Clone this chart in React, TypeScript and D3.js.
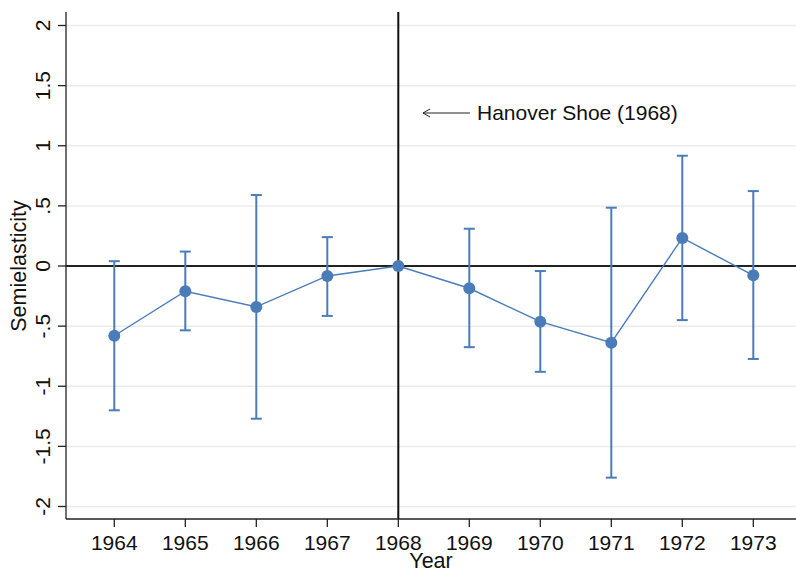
import React from "react";
import * as d3 from "d3";

const years = [1964, 1965, 1966, 1967, 1968, 1969, 1970, 1971, 1972, 1973];
const estimates = [-0.58, -0.21, -0.34, -0.083, 0, -0.185, -0.463, -0.638, 0.233, -0.077];
const upper = [0.04, 0.12, 0.59, 0.24, 0, 0.31, -0.042, 0.485, 0.917, 0.623];
const lower = [-1.2, -0.535, -1.27, -0.415, 0, -0.675, -0.88, -1.76, -0.45, -0.773];
const yTicks = [-2, -1.5, -1, -0.5, 0, 0.5, 1, 1.5, 2];
const yTickLabels = ["-2", "-1.5", "-1", "-.5", "0", ".5", "1", "1.5", "2"];
const eventYear = 1968;
const annotation = "Hanover Shoe (1968)";

const W = 796;
const H = 573;
const left = 66;
const right = 796;
const top = 12;
const bottom = 519;
const blue = "#4a7cba";
const font = "'Liberation Sans', Arial, Helvetica, sans-serif";

export default function App() {
  const x = d3.scaleLinear().domain([1964, 1973]).range([114.3, 753.3]);
  const y = d3.scaleLinear().domain([-2, 2]).range([506.5, 25.5]);
  const line = d3
    .line<number>()
    .x((_, i) => x(years[i]))
    .y((d) => y(d));

  return (
    <svg
      width={W}
      height={H}
      style={{ position: "absolute", left: 0, top: 0, background: "#fff" }}
      fontFamily={font}
    >
      <rect x={0} y={0} width={W} height={H} fill="#fff" />
      {yTicks.map((t) =>
        t === 0 ? null : (
          <line key={"g" + t} x1={left} x2={right} y1={y(t)} y2={y(t)} stroke="#ececec" strokeWidth={1.5} />
        )
      )}
      <line x1={left} x2={right} y1={y(0)} y2={y(0)} stroke="#222" strokeWidth={2} />
      <line x1={x(eventYear)} x2={x(eventYear)} y1={top} y2={bottom} stroke="#111" strokeWidth={2} />
      <line x1={left} x2={left} y1={top} y2={bottom} stroke="#222" strokeWidth={1.3} />
      <line x1={left} x2={right} y1={bottom} y2={bottom} stroke="#222" strokeWidth={1.3} />
      {yTicks.map((t, i) => (
        <g key={"yt" + t}>
          <line x1={left - 8} x2={left} y1={y(t)} y2={y(t)} stroke="#222" strokeWidth={1.3} />
          <text
            transform={`translate(${50},${y(t)}) rotate(-90)`}
            textAnchor="middle"
            fontSize={21}
            fill="#111"
          >
            {yTickLabels[i]}
          </text>
        </g>
      ))}
      {years.map((yr) => (
        <g key={"xt" + yr}>
          <line x1={x(yr)} x2={x(yr)} y1={bottom} y2={bottom + 8} stroke="#222" strokeWidth={1.3} />
          <text x={x(yr)} y={550} textAnchor="middle" fontSize={21} fill="#111">
            {yr}
          </text>
        </g>
      ))}
      <text x={(left + right) / 2} y={568} textAnchor="middle" fontSize={21.5} fill="#111">
        Year
      </text>
      <text
        transform={`translate(${25.5},${y(0)}) rotate(-90)`}
        textAnchor="middle"
        fontSize={21.5}
        fill="#111"
      >
        Semielasticity
      </text>
      <line x1={423} x2={470} y1={113} y2={113} stroke="#222" strokeWidth={1} />
      <path d="M430,109 L423,113 L430,117" fill="none" stroke="#222" strokeWidth={1} />
      <text x={477} y={120} fontSize={21} fill="#111">
        {annotation}
      </text>
      {years.map((yr, i) =>
        upper[i] === lower[i] ? null : (
          <g key={"eb" + yr} stroke={blue} strokeWidth={2}>
            <line x1={x(yr)} x2={x(yr)} y1={y(upper[i])} y2={y(lower[i])} />
            <line x1={x(yr) - 5.5} x2={x(yr) + 5.5} y1={y(upper[i])} y2={y(upper[i])} />
            <line x1={x(yr) - 5.5} x2={x(yr) + 5.5} y1={y(lower[i])} y2={y(lower[i])} />
          </g>
        )
      )}
      <path d={line(estimates) || ""} fill="none" stroke={blue} strokeWidth={1.4} />
      {years.map((yr, i) => (
        <circle key={"p" + yr} cx={x(yr)} cy={y(estimates[i])} r={6} fill={blue} />
      ))}
    </svg>
  );
}
